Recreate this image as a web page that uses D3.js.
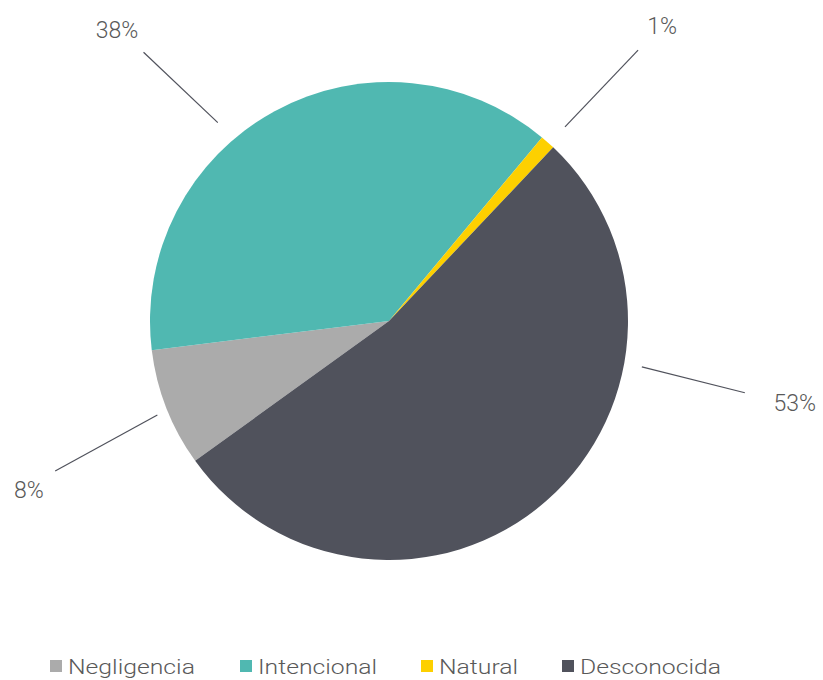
<!DOCTYPE html>
<html>
<head>
<meta charset="utf-8">
<script src="https://cdn.jsdelivr.net/npm/d3@7"></script>
<style>
  html, body { margin: 0; padding: 0; background: #ffffff; }
  svg { display: block; }
  text { font-family: Roboto, "Open Sans", sans-serif; font-weight: 300; }
</style>
</head>
<body>
<div id="chart"></div>
<script>
// Causas de los incendios (porcentaje del total)
const categories = ["Negligencia", "Intencional", "Natural", "Desconocida"];
const values = [8, 38, 1, 53];
const valueLabels = ["8%", "38%", "1%", "53%"];
const colors = ["#ababab", "#50b8b1", "#fdd000", "#50525c"];

// Leader-line placement for each value label (degrees clockwise from 12 o'clock)
const labelAngles = [
  { inner: 247.9, outer: 245.8, text: 244.8, r0: 250, r1: 366, rt: 398 },
  { inner: 319.2, outer: 317.6, text: 316.9, r0: 262, r1: 364, rt: 398 },
  { inner: 42.2,  outer: 42.6,  text: 42.8,  r0: 262, r1: 368, rt: 402 },
  { inner: 100.3, outer: 101.4, text: 101.5, r0: 257, r1: 363, rt: 414 }
];

const width = 823, height = 680;
const cx = 389, cy = 321, radius = 239;
const toRad = d => d * Math.PI / 180;
const startDeg = 234.2;

const svg = d3.select("#chart").append("svg")
  .attr("width", width).attr("height", height);

const color = d3.scaleOrdinal().domain(categories).range(colors);

const pie = d3.pie()
  .value(d => d.value)
  .sort(null)
  .startAngle(toRad(startDeg))
  .endAngle(toRad(startDeg) + 2 * Math.PI);

const data = categories.map((c, i) => ({ name: c, value: values[i], label: valueLabels[i] }));
const arcs = pie(data);

const arc = d3.arc().innerRadius(0).outerRadius(radius);

const g = svg.append("g").attr("transform", `translate(${cx},${cy})`);

g.selectAll("path.slice")
  .data(arcs)
  .join("path")
  .attr("class", "slice")
  .attr("d", arc)
  .attr("fill", d => color(d.data.name));

// polar helper: angle measured clockwise from top
const polar = (deg, r) => [Math.sin(toRad(deg)) * r, -Math.cos(toRad(deg)) * r];

g.selectAll("line.leader")
  .data(arcs)
  .join("line")
  .attr("class", "leader")
  .each(function (d, i) {
    const L = labelAngles[i];
    const p0 = polar(L.inner, L.r0), p1 = polar(L.outer, L.r1);
    d3.select(this)
      .attr("x1", p0[0]).attr("y1", p0[1])
      .attr("x2", p1[0]).attr("y2", p1[1]);
  })
  .attr("stroke", "#50525c")
  .attr("stroke-width", 1.2);

g.selectAll("text.value")
  .data(arcs)
  .join("text")
  .attr("class", "value")
  .each(function (d, i) {
    const L = labelAngles[i];
    const p = polar(L.text, L.rt);
    d3.select(this).attr("x", p[0]).attr("y", p[1]);
  })
  .attr("text-anchor", "middle")
  .attr("dominant-baseline", "central")
  .attr("font-size", 23)
  .attr("fill", "#595959")
  .text(d => d.data.label);

// Legend (text drawn slightly widened)
const legendX = [50, 240, 421, 562];
const legend = svg.append("g").attr("class", "legend");
const items = legend.selectAll("g.item")
  .data(categories)
  .join("g")
  .attr("class", "item")
  .attr("transform", (d, i) => `translate(${legendX[i]},660)`);

items.append("rect")
  .attr("width", 12).attr("height", 12)
  .attr("fill", d => color(d));

items.append("text")
  .attr("transform", "translate(18,13.5) scale(1.27,1)")
  .attr("font-size", 19.5)
  .attr("fill", "#595959")
  .text(d => d);
</script>
</body>
</html>
